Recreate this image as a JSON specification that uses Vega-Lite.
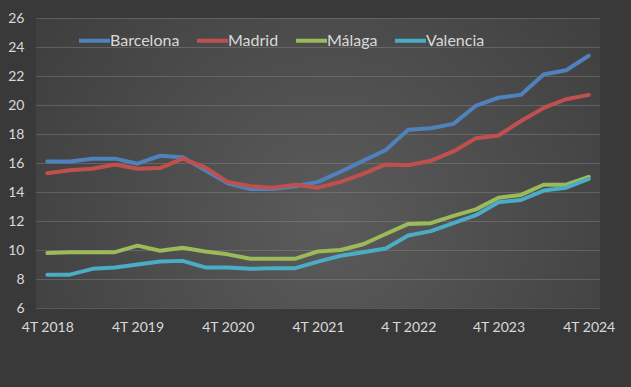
{
  "$schema": "https://vega.github.io/schema/vega-lite/v6.json",
  "width": 564,
  "height": 290,
  "autosize": {"type": "none"},
  "padding": {"left": 36, "top": 18, "right": 31, "bottom": 79},
  "background": "#393939",
  "config": {
    "view": {
      "stroke": null,
      "fill": {"gradient": "radial", "x1": 0.52, "y1": 0.6, "r1": 0, "x2": 0.52, "y2": 0.6, "r2": 0.78,
        "stops": [{"offset": 0, "color": "#5b5b5b"}, {"offset": 1, "color": "#373737"}]}
    },
    "axis": {"labelFont": "Lato", "labelFontSize": 14, "labelColor": "#d9d9d9", "domain": false, "ticks": false, "title": null},
    "legend": {"labelFont": "Lato", "labelFontSize": 16, "labelColor": "#d9d9d9"}
  },
  "data": {"values": [
    {"q":"4T 2018","city":"Barcelona","v":16.1},{"q":"1T 2019","city":"Barcelona","v":16.1},{"q":"2T 2019","city":"Barcelona","v":16.3},{"q":"3T 2019","city":"Barcelona","v":16.3},{"q":"4T 2019","city":"Barcelona","v":15.95},
    {"q":"1T 2020","city":"Barcelona","v":16.5},{"q":"2T 2020","city":"Barcelona","v":16.4},{"q":"3T 2020","city":"Barcelona","v":15.5},{"q":"4T 2020","city":"Barcelona","v":14.6},
    {"q":"1T 2021","city":"Barcelona","v":14.2},{"q":"2T 2021","city":"Barcelona","v":14.2},{"q":"3T 2021","city":"Barcelona","v":14.4},{"q":"4T 2021","city":"Barcelona","v":14.7},
    {"q":"1T 2022","city":"Barcelona","v":15.4},{"q":"2T 2022","city":"Barcelona","v":16.15},{"q":"3T 2022","city":"Barcelona","v":16.9},{"q":"4 T 2022","city":"Barcelona","v":18.3},
    {"q":"1T 2023","city":"Barcelona","v":18.4},{"q":"2T 2023","city":"Barcelona","v":18.7},{"q":"3T 2023","city":"Barcelona","v":19.95},{"q":"4T 2023","city":"Barcelona","v":20.5},
    {"q":"1T 2024","city":"Barcelona","v":20.7},{"q":"2T 2024","city":"Barcelona","v":22.1},{"q":"3T 2024","city":"Barcelona","v":22.4},{"q":"4T 2024","city":"Barcelona","v":23.4},

    {"q":"4T 2018","city":"Madrid","v":15.3},{"q":"1T 2019","city":"Madrid","v":15.5},{"q":"2T 2019","city":"Madrid","v":15.6},{"q":"3T 2019","city":"Madrid","v":15.9},{"q":"4T 2019","city":"Madrid","v":15.6},
    {"q":"1T 2020","city":"Madrid","v":15.65},{"q":"2T 2020","city":"Madrid","v":16.3},{"q":"3T 2020","city":"Madrid","v":15.7},{"q":"4T 2020","city":"Madrid","v":14.7},
    {"q":"1T 2021","city":"Madrid","v":14.4},{"q":"2T 2021","city":"Madrid","v":14.3},{"q":"3T 2021","city":"Madrid","v":14.5},{"q":"4T 2021","city":"Madrid","v":14.3},
    {"q":"1T 2022","city":"Madrid","v":14.7},{"q":"2T 2022","city":"Madrid","v":15.25},{"q":"3T 2022","city":"Madrid","v":15.9},{"q":"4 T 2022","city":"Madrid","v":15.85},
    {"q":"1T 2023","city":"Madrid","v":16.15},{"q":"2T 2023","city":"Madrid","v":16.8},{"q":"3T 2023","city":"Madrid","v":17.7},{"q":"4T 2023","city":"Madrid","v":17.9},
    {"q":"1T 2024","city":"Madrid","v":18.9},{"q":"2T 2024","city":"Madrid","v":19.8},{"q":"3T 2024","city":"Madrid","v":20.4},{"q":"4T 2024","city":"Madrid","v":20.7},

    {"q":"4T 2018","city":"Málaga","v":9.8},{"q":"1T 2019","city":"Málaga","v":9.85},{"q":"2T 2019","city":"Málaga","v":9.85},{"q":"3T 2019","city":"Málaga","v":9.85},{"q":"4T 2019","city":"Málaga","v":10.3},
    {"q":"1T 2020","city":"Málaga","v":9.95},{"q":"2T 2020","city":"Málaga","v":10.15},{"q":"3T 2020","city":"Málaga","v":9.9},{"q":"4T 2020","city":"Málaga","v":9.7},
    {"q":"1T 2021","city":"Málaga","v":9.4},{"q":"2T 2021","city":"Málaga","v":9.4},{"q":"3T 2021","city":"Málaga","v":9.4},{"q":"4T 2021","city":"Málaga","v":9.9},
    {"q":"1T 2022","city":"Málaga","v":10.0},{"q":"2T 2022","city":"Málaga","v":10.4},{"q":"3T 2022","city":"Málaga","v":11.1},{"q":"4 T 2022","city":"Málaga","v":11.8},
    {"q":"1T 2023","city":"Málaga","v":11.85},{"q":"2T 2023","city":"Málaga","v":12.35},{"q":"3T 2023","city":"Málaga","v":12.8},{"q":"4T 2023","city":"Málaga","v":13.6},
    {"q":"1T 2024","city":"Málaga","v":13.8},{"q":"2T 2024","city":"Málaga","v":14.5},{"q":"3T 2024","city":"Málaga","v":14.5},{"q":"4T 2024","city":"Málaga","v":15.05},

    {"q":"4T 2018","city":"Valencia","v":8.3},{"q":"1T 2019","city":"Valencia","v":8.3},{"q":"2T 2019","city":"Valencia","v":8.7},{"q":"3T 2019","city":"Valencia","v":8.8},{"q":"4T 2019","city":"Valencia","v":9.0},
    {"q":"1T 2020","city":"Valencia","v":9.2},{"q":"2T 2020","city":"Valencia","v":9.25},{"q":"3T 2020","city":"Valencia","v":8.8},{"q":"4T 2020","city":"Valencia","v":8.8},
    {"q":"1T 2021","city":"Valencia","v":8.7},{"q":"2T 2021","city":"Valencia","v":8.75},{"q":"3T 2021","city":"Valencia","v":8.75},{"q":"4T 2021","city":"Valencia","v":9.2},
    {"q":"1T 2022","city":"Valencia","v":9.6},{"q":"2T 2022","city":"Valencia","v":9.85},{"q":"3T 2022","city":"Valencia","v":10.1},{"q":"4 T 2022","city":"Valencia","v":11.0},
    {"q":"1T 2023","city":"Valencia","v":11.3},{"q":"2T 2023","city":"Valencia","v":11.85},{"q":"3T 2023","city":"Valencia","v":12.4},{"q":"4T 2023","city":"Valencia","v":13.3},
    {"q":"1T 2024","city":"Valencia","v":13.45},{"q":"2T 2024","city":"Valencia","v":14.1},{"q":"3T 2024","city":"Valencia","v":14.3},{"q":"4T 2024","city":"Valencia","v":14.9}
  ]},
  "mark": {"type": "line", "strokeWidth": 4, "strokeCap": "round", "strokeJoin": "round"},
  "encoding": {
    "x": {"field": "q", "type": "ordinal", "sort": null,
      "scale": {"type": "point", "padding": 0.5},
      "axis": {"values": ["4T 2018","4T 2019","4T 2020","4T 2021","4 T 2022","4T 2023","4T 2024"], "labelAngle": 0, "grid": false, "labelPadding": 12}},
    "y": {"field": "v", "type": "quantitative",
      "scale": {"domain": [6, 26], "nice": false, "zero": false},
      "axis": {"values": [6,8,10,12,14,16,18,20,22,24,26], "grid": true, "gridColor": "#9a9a9a", "gridOpacity": 0.33, "labelPadding": 12}},
    "color": {"field": "city", "type": "nominal",
      "scale": {"domain": ["Barcelona","Madrid","Málaga","Valencia"], "range": ["#4F81BD","#C0504D","#9BBB59","#4BACC6"]},
      "legend": {"title": null, "orient": "none", "legendX": 41, "legendY": 5, "direction": "horizontal",
        "symbolType": "stroke", "symbolSize": 961, "symbolStrokeWidth": 4, "labelOffset": -2, "columnPadding": 9}}
  }
}
